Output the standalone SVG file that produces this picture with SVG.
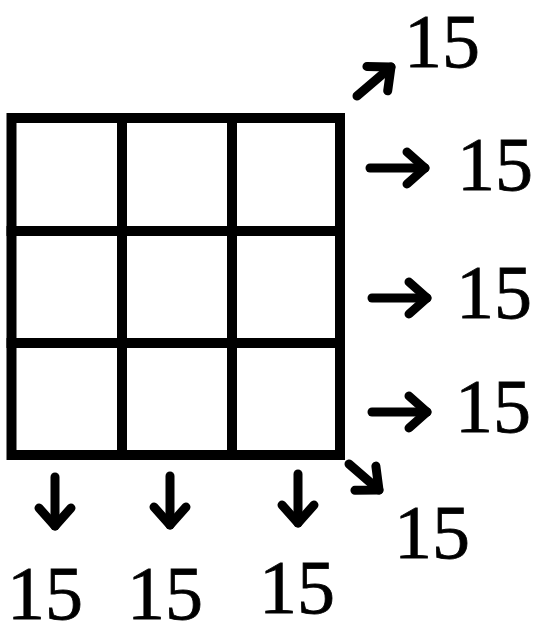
<svg xmlns="http://www.w3.org/2000/svg" width="537" height="624" viewBox="0 0 537 624">
<style>
.g{stroke:#000;stroke-width:10;fill:none;stroke-linecap:square}
.a{stroke:#000;stroke-width:9;fill:none;stroke-linecap:round;marker-end:url(#chev)}
.t{font-family:"Liberation Serif","Times New Roman",serif;font-size:76px;fill:#000;stroke:#000;stroke-width:0.8}
</style>
<defs>
<marker id="chev" markerUnits="userSpaceOnUse" markerWidth="60" markerHeight="60" refX="30" refY="30" orient="auto" overflow="visible">
<path d="M12,14 L30,30 L12,46" fill="none" stroke="#000" stroke-width="9" stroke-linecap="round" stroke-linejoin="round"/>
</marker>
</defs>
<rect width="537" height="624" fill="#fff"/>
<g id="grid" class="g">
<rect x="11.5" y="118" width="328.5" height="337"/>
<line x1="122" y1="118" x2="122" y2="455"/>
<line x1="232" y1="118" x2="232" y2="455"/>
<line x1="11.5" y1="231" x2="340" y2="231"/>
<line x1="11.5" y1="343" x2="340" y2="343"/>
</g>
<g id="connectors">
<line class="a" x1="357" y1="96" x2="391" y2="67"/>
<line class="a" x1="370" y1="168" x2="425" y2="168"/>
<line class="a" x1="372" y1="298" x2="427" y2="298"/>
<line class="a" x1="372" y1="412" x2="427" y2="412"/>
<line class="a" x1="349" y1="464" x2="379" y2="490"/>
<line class="a" x1="55" y1="477" x2="55" y2="526"/>
<line class="a" x1="170" y1="476" x2="170" y2="525"/>
<line class="a" x1="298" y1="474" x2="298" y2="523"/>
</g>
<g id="labels" class="t">
<text x="404" y="67">15</text>
<text x="457" y="190">15</text>
<text x="456" y="318">15</text>
<text x="455" y="432">15</text>
<text x="394" y="558">15</text>
<text x="7" y="619">15</text>
<text x="127" y="619">15</text>
<text x="259" y="613">15</text>
</g>
</svg>
